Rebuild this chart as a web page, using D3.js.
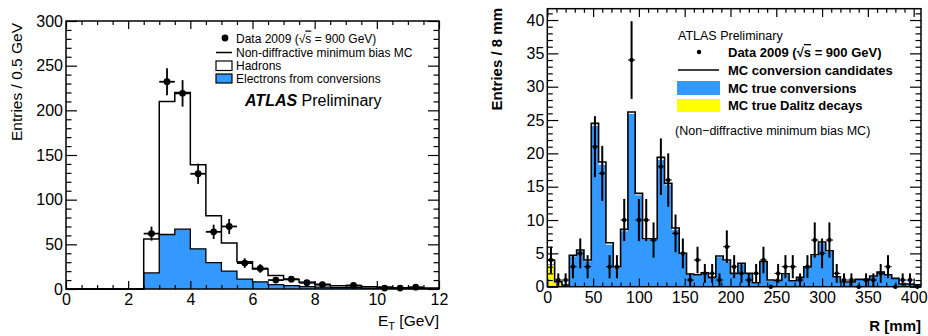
<!DOCTYPE html>
<html><head><meta charset="utf-8">
<script src="https://cdn.jsdelivr.net/npm/d3@7"></script>
<style>
body{margin:0;background:#fff}
svg{display:block}
text{font-family:"Liberation Sans",Arial,Helvetica,sans-serif;fill:#000}
</style>
</head><body>
<svg id="c" width="928" height="336"></svg>
<script>
// ---------------- LEFT PANEL DATA (E_T, 0.5 GeV bins) ----------------
const etBinLow = [0,0.5,1,1.5,2,2.5,3,3.5,4,4.5,5,5.5,6,6.5,7,7.5,8,8.5,9,9.5,10,10.5,11,11.5];
const etBinWidth = 0.5;
const electronsConv = [0,0,0,0,0,18,61,67,45,29.5,20,11,8,5,3.7,2.6,2,1.5,1.5,1,0.8,0.6,0.5,0.4];
const hadrons       = [0,0,0,0,0,38,149,153,94,52.5,31.5,19.6,14.4,10,6.8,4.9,3,2.2,2.2,1.6,1.4,0.9,1.0,0.7];
const dataEt        = [null,null,null,null,null,62,232,219,129,64,70,29,23,10,11,7,5,null,4,null,1,1,2,null];
const etXTicks = [0,2,4,6,8,10,12];
const etYTicks = [0,50,100,150,200,250,300];

// ---------------- RIGHT PANEL DATA (R, 8 mm bins) ----------------
const rBinLow = [0,8,16,24,32,40,48,56,64,72,80,88,96,104,112,120,128,136,144,152,160,168,176,184,192,200,
                 208,216,224,232,240,248,256,264,272,280,288,296,304,312,320,328,336,344,352,360,368,376,384,392,400];
const rBinWidth = 8;
const mcCandidates = [4.0,0.75,0.25,4.7,5.5,4.0,24.5,18.7,6.6,3.0,8.6,26.2,14.0,7.2,7.2,19.4,15.5,8.8,5.0,1.9,1.8,2.1,1.4,4.6,4.0,2.0,
                      3.5,2.0,0.6,3.75,1.0,0.95,1.95,0.9,1.4,3.0,4.8,6.7,5.4,1.5,0.7,0.7,1.1,1.1,1.6,2.2,1.8,1.25,0.4,0.4,0.3];
const mcTrueConv   = [3.4,0.6,0.2,4.5,5.3,3.8,24.1,18.3,6.3,2.8,8.3,25.9,13.7,7.0,7.0,19.0,15.2,8.5,4.8,1.8,1.7,2.0,1.3,4.4,3.8,1.9,
                      3.3,1.9,0.5,3.6,0.9,0.9,1.8,0.8,1.3,2.9,4.6,6.5,5.2,1.4,0.6,0.6,1.0,1.0,1.5,2.1,1.7,1.2,0.35,0.35,0.25];
const mcDalitz     = [3.3,0.5,0.1,0,0,0,0,0,0,0,0,0,0,0,0,0,0,0,0,0,0,0,0,0,0,0,
                      0,0,0,0,0,0,0,0,0,0,0,0,0,0,0,0,0,0,0,0,0,0,0,0,0];
const dataR        = [4,1,1,3,5,3,21,17,3,3,10,34,10,10,7,18,16,8,5,1,4,2,2,1,6,3,
                      2,1,2,4,0,2,3,3,1,3,7,5,7,2,1,1,0,1,1,2,3,0,1,1,0];
const rXTicks = [0,50,100,150,200,250,300,350,400];
const rYTicks = [0,5,10,15,20,25,30,35,40];

const BLUE = "#3399ff", YELLOW = "#ffff00";
const svg = d3.select("#c");

// ---------------- helpers ----------------
function stepPoints(lows, width, vals){
  const pts = lows.map((l,i)=>({x:l, y:vals[i]}));
  pts.push({x:lows[lows.length-1]+width, y:vals[vals.length-1]});
  return pts;
}
function drawAxes(g, x, y, xMaj, xMin, yMaj, yMin, tx, ty, fs){
  const [y0,y1] = y.range(), [x0,x1] = x.range();
  const add = (ax, tr) => {
    const a = g.append("g").attr("transform", tr).call(ax);
    a.select(".domain").remove();
    a.selectAll("line").attr("stroke","#000").attr("stroke-width",1.2);
    a.attr("font-family",null).attr("font-size",fs);
    return a;
  };
  add(d3.axisBottom(x).tickValues(xMaj).tickSize(-tx).tickPadding(5).tickFormat(d3.format("d")), `translate(0,${y0})`);
  add(d3.axisBottom(x).tickValues(xMin).tickSize(-tx/2).tickFormat(""), `translate(0,${y0})`);
  add(d3.axisTop(x).tickValues(xMaj).tickSize(-tx).tickFormat(""), `translate(0,${y1})`);
  add(d3.axisTop(x).tickValues(xMin).tickSize(-tx/2).tickFormat(""), `translate(0,${y1})`);
  add(d3.axisLeft(y).tickValues(yMaj).tickSize(-ty).tickPadding(3).tickFormat(d3.format("d")), `translate(${x0},0)`);
  add(d3.axisLeft(y).tickValues(yMin).tickSize(-ty/2).tickFormat(""), `translate(${x0},0)`);
  add(d3.axisRight(y).tickValues(yMaj).tickSize(-ty).tickFormat(""), `translate(${x1},0)`);
  add(d3.axisRight(y).tickValues(yMin).tickSize(-ty/2).tickFormat(""), `translate(${x1},0)`);
  g.append("rect").attr("x",x0).attr("y",y1).attr("width",x1-x0).attr("height",y0-y1)
    .attr("fill","none").attr("stroke","#000").attr("stroke-width",1.5);
}
function minorTicks(lo, hi, step, majors){
  return d3.range(lo, hi+1e-9, step).filter(v => !majors.some(m => Math.abs(m-v)<1e-9));
}

// ---------------- LEFT PANEL ----------------
{
  const g = svg.append("g");
  const x = d3.scaleLinear().domain([0,12]).range([66,439]);
  const y = d3.scaleLinear().domain([0,300]).range([289,21]);
  const table = etBinLow.map((l,i)=>({x:l, electrons:electronsConv[i], hadrons:hadrons[i]}));
  table.push({x:12, electrons:electronsConv[electronsConv.length-1], hadrons:hadrons[hadrons.length-1]});
  const stack = d3.stack().keys(["electrons","hadrons"])(table);
  const area = d3.area().curve(d3.curveStepAfter).x(d=>x(d.data.x)).y0(d=>y(d[0])).y1(d=>y(d[1]));
  const line = d3.line().curve(d3.curveStepAfter).x(d=>x(d.data.x)).y(d=>y(d[1]));
  g.append("path").datum(stack[1]).attr("d",area).attr("fill","#fff");
  g.append("path").datum(stack[0]).attr("d",area).attr("fill",BLUE);
  g.append("path").datum(stack[0]).attr("d",line).attr("fill","none").attr("stroke","#000").attr("stroke-width",1.3);
  g.append("path").datum(stack[1]).attr("d",line).attr("fill","none").attr("stroke","#000").attr("stroke-width",1.5);
  const pts = etBinLow.map((l,i)=>({c:l+etBinWidth/2, v:dataEt[i]})).filter(d=>d.v!==null);
  const dg = g.append("g").attr("stroke","#000").attr("stroke-width",1.8);
  pts.forEach(d=>{
    const e = Math.sqrt(d.v);
    dg.append("line").attr("x1",x(d.c-etBinWidth/2)).attr("x2",x(d.c+etBinWidth/2)).attr("y1",y(d.v)).attr("y2",y(d.v));
    dg.append("line").attr("x1",x(d.c)).attr("x2",x(d.c)).attr("y1",y(d.v-e)).attr("y2",y(d.v+e));
  });
  g.selectAll("circle.d").data(pts).join("circle").attr("cx",d=>x(d.c)).attr("cy",d=>y(d.v)).attr("r",3.4).attr("fill","#000");

  drawAxes(g, x, y, etXTicks, minorTicks(0,12,0.5,etXTicks), etYTicks, minorTicks(0,300,10,etYTicks), 8, 11, 16);

  g.append("text").attr("transform","translate(22,23) rotate(-90)").attr("text-anchor","end")
    .attr("font-size",15.5).text("Entries / 0.5 GeV");
  const xt = g.append("text").attr("x",439).attr("y",326).attr("text-anchor","end").attr("font-size",15.5);
  xt.append("tspan").text("E");
  xt.append("tspan").attr("font-size",11).attr("dy",4).text("T");
  xt.append("tspan").attr("dy",-4).text(" [GeV]");

  const lg = g.append("g").attr("font-size",12);
  lg.append("circle").attr("cx",225).attr("cy",38).attr("r",3.4).attr("fill","#000");
  const t1 = lg.append("text").attr("x",236).attr("y",42.5);
  t1.append("tspan").text("Data 2009 (√");
  t1.append("tspan").attr("text-decoration","overline").text("s");
  t1.append("tspan").text(" = 900 GeV)");
  lg.append("line").attr("x1",216).attr("x2",232).attr("y1",52.5).attr("y2",52.5).attr("stroke","#000").attr("stroke-width",1.5);
  lg.append("text").attr("x",236).attr("y",57).text("Non-diffractive minimum bias MC");
  lg.append("rect").attr("x",216).attr("y",61).attr("width",16).attr("height",9.5).attr("fill","#fff").attr("stroke","#000").attr("stroke-width",1.2);
  lg.append("text").attr("x",236).attr("y",70).text("Hadrons");
  lg.append("rect").attr("x",216).attr("y",74).attr("width",16).attr("height",9).attr("fill",BLUE).attr("stroke","#000").attr("stroke-width",1.2);
  lg.append("text").attr("x",236).attr("y",83).text("Electrons from conversions");
  const at = g.append("text").attr("x",245).attr("y",105.5).attr("font-size",16);
  at.append("tspan").attr("font-weight","bold").attr("font-style","italic").text("ATLAS");
  at.append("tspan").text(" Preliminary");
}

// ---------------- RIGHT PANEL ----------------
{
  const g = svg.append("g");
  const x = d3.scaleLinear().domain([0,408]).range([547.3,921]);
  const y = d3.scaleLinear().domain([0,41.7]).range([286.7,8.7]);
  const area = d3.area().curve(d3.curveStepAfter).x(d=>x(d.x)).y0(y(0)).y1(d=>y(d.y));
  const line = d3.line().curve(d3.curveStepAfter).x(d=>x(d.x)).y(d=>y(d.y));
  g.append("path").datum(stepPoints(rBinLow,rBinWidth,mcTrueConv)).attr("d",area).attr("fill",BLUE);
  g.append("path").datum(stepPoints(rBinLow,rBinWidth,mcDalitz)).attr("d",area).attr("fill",YELLOW);
  g.append("path").datum(stepPoints(rBinLow,rBinWidth,mcCandidates)).attr("d",line)
    .attr("fill","none").attr("stroke","#000").attr("stroke-width",1.6);

  const pts = rBinLow.map((l,i)=>({c:l+rBinWidth/2, v:dataR[i]}));
  const dg = g.append("g").attr("stroke","#000");
  pts.forEach(d=>{
    const e = Math.sqrt(d.v);
    dg.append("line").attr("x1",x(d.c-rBinWidth/2)).attr("x2",x(d.c+rBinWidth/2)).attr("y1",y(d.v)).attr("y2",y(d.v)).attr("stroke-width",1);
    if (e>0) dg.append("line").attr("x1",x(d.c)).attr("x2",x(d.c)).attr("y1",y(d.v-e)).attr("y2",y(d.v+e)).attr("stroke-width",2);
  });
  g.selectAll("circle.d").data(pts).join("circle").attr("cx",d=>x(d.c)).attr("cy",d=>y(d.v)).attr("r",2.2).attr("fill","#000");

  drawAxes(g, x, y, rXTicks, minorTicks(0,400,10,rXTicks), rYTicks, minorTicks(0,41,1,rYTicks), 8.3, 11, 16);

  g.append("text").attr("transform","translate(501.5,8) rotate(-90)").attr("text-anchor","end")
    .attr("font-size",15).attr("font-weight","bold").text("Entries / 8 mm");
  g.append("text").attr("x",921).attr("y",331).attr("text-anchor","end")
    .attr("font-size",15).attr("font-weight","bold").text("R [mm]");

  const lg = g.append("g");
  lg.append("text").attr("x",678).attr("y",39.5).attr("font-size",12.5).text("ATLAS Preliminary");
  lg.append("circle").attr("cx",699).attr("cy",52).attr("r",2.2).attr("fill","#000");
  const t1 = lg.append("text").attr("x",728).attr("y",57).attr("font-size",13).attr("font-weight","bold");
  t1.append("tspan").text("Data 2009 (√");
  t1.append("tspan").attr("text-decoration","overline").text("s");
  t1.append("tspan").text(" = 900 GeV)");
  lg.append("line").attr("x1",678).attr("x2",719).attr("y1",70).attr("y2",70).attr("stroke","#000").attr("stroke-width",1.5);
  lg.append("text").attr("x",728).attr("y",75).attr("font-size",13).attr("font-weight","bold").text("MC conversion candidates");
  lg.append("rect").attr("x",677).attr("y",81).attr("width",43).attr("height",14).attr("fill",BLUE);
  lg.append("text").attr("x",728).attr("y",93).attr("font-size",13).attr("font-weight","bold").text("MC true conversions");
  lg.append("rect").attr("x",677).attr("y",99).attr("width",43).attr("height",13).attr("fill",YELLOW);
  lg.append("text").attr("x",728).attr("y",110).attr("font-size",13).attr("font-weight","bold").text("MC true Dalitz decays");
  lg.append("text").attr("x",675).attr("y",135).attr("font-size",12.5).text("(Non\u2212diffractive minimum bias MC)");
}
</script>
</body></html>
